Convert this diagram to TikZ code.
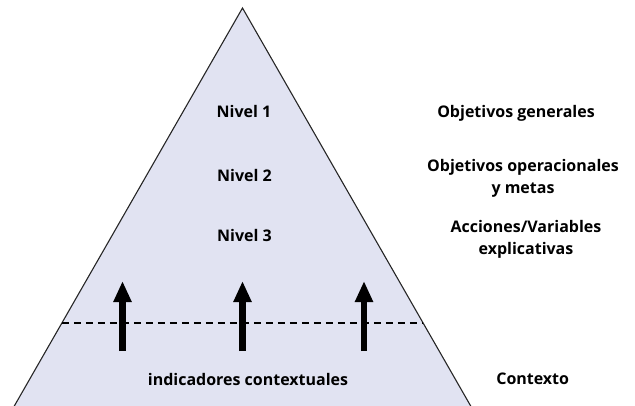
\documentclass[tikz,border=0pt]{standalone}
\usepackage{fontspec}
\setmainfont{Open Sans}
\usetikzlibrary{arrows.meta,calc}
\definecolor{pyrfill}{RGB}{225,227,242}
\tikzset{
  lbl/.style={font=\bfseries\fontsize{16bp}{21.5bp}\selectfont, align=center, inner sep=0pt, anchor=base},
  uparrow/.style={line width=6.5bp, -{Triangle[width=17bp,length=21bp]}},
  sepline/.style={line width=1.2bp, dash pattern=on 7bp off 5bp}
}
\begin{document}
\begin{tikzpicture}[x=1bp,y=-1bp]
\useasboundingbox (0,0) rectangle (635,405);
\coordinate (apex) at (242.5,8);
\coordinate (bl) at (12,410);
\coordinate (br) at (473,410);
\draw[fill=pyrfill, line width=1.1bp, draw=black!85] (bl) -- (apex) -- (br);
\coordinate (dl) at ($(bl)!0.2164!(apex)$);
\coordinate (dr) at ($(br)!0.2164!(apex)$);
\draw[sepline] (dl) -- (dr);
\foreach \i/\x in {1/122.5,2/242.5,3/364} {
  \coordinate (a\i b) at (\x,351);
  \coordinate (a\i t) at (\x,281);
  \draw[uparrow] (a\i b) -- (a\i t);
}
\node[lbl] (n1) at (244,117) {Nivel 1};
\node[lbl] (n2) at (244.5,181.7) {Nivel 2};
\node[lbl] (n3) at (244.5,241.7) {Nivel 3};
\node[lbl] (ctx) at (248,385) {indicadores contextuales};
\node[lbl] (r1) at (516,117.5) {Objetivos generales};
\node[lbl] (r2) at (523,193.3) {Objetivos operacionales\\y metas};
\node[lbl] (r3) at (526,254.3) {Acciones/Variables\\explicativas};
\node[lbl] (r4) at (532.7,384.3) {Contexto};
\end{tikzpicture}
\end{document}
